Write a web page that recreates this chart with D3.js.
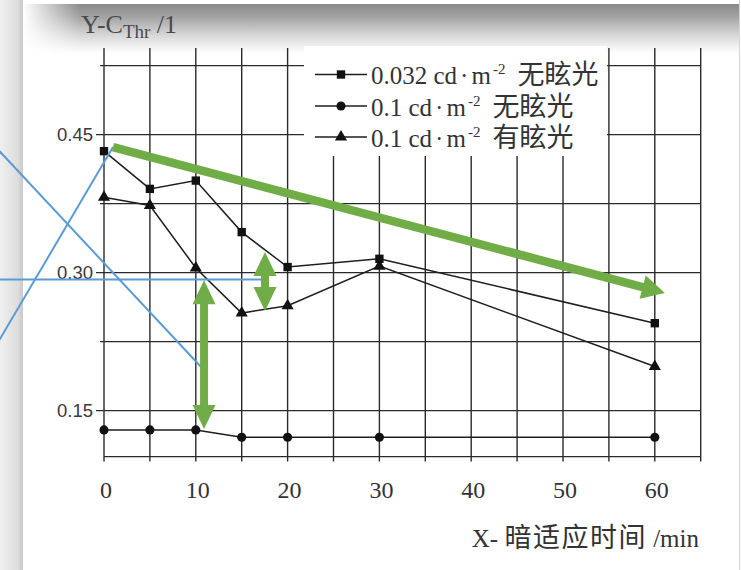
<!DOCTYPE html>
<html>
<head>
<meta charset="utf-8">
<script src="https://cdn.jsdelivr.net/npm/d3@7/dist/d3.min.js"></script>
<style>
  html, body { margin: 0; padding: 0; background: #ffffff; }
  svg { display: block; }
</style>
</head>
<body>
<script>
// Dark-adaptation threshold contrast vs. adaptation time
const minutes = [0, 5, 10, 15, 20, 30, 60];
const lum032NoGlare = [0.432, 0.391, 0.400, 0.344, 0.306, 0.315, 0.245];
const lum01NoGlare  = [0.129, 0.129, 0.129, 0.121, 0.121, 0.121, 0.121];
const lum01Glare    = [0.382, 0.373, 0.305, 0.256, 0.264, 0.307, 0.198];

const xTickLabels = [0, 10, 20, 30, 40, 50, 60];
const yTickLabels = [0.15, 0.30, 0.45];
const yGridValues = [0.15, 0.225, 0.30, 0.375, 0.45, 0.525];

const seriesLum = ["0.032", "0.1", "0.1"];
const seriesGlare = ["无眩光", "无眩光", "有眩光"];
const seriesSymbols = [d3.symbolSquare, d3.symbolCircle, d3.symbolTriangle];
const seriesSizes = [70, 66, 64];

// Overlay annotations, in (minutes, value) units
const trendArrow = [[0.98, 0.4365], [61.1, 0.2778]];
const gapArrows = [
  [[10.9, 0.2918], [10.9, 0.130]],
  [[17.54, 0.3224], [17.54, 0.2583]]
];
const guideLines = [
  [[-11.4, 0.2925], [17.54, 0.2925]],
  [[-11.4, 0.4322], [10.68, 0.1963]],
  [[-11.4, 0.2267], [0.98, 0.4365]]
];

const W = 741, H = 570;
const x = d3.scaleLinear().domain([0, 65]).range([104, 700.7]);
const y = d3.scaleLinear().domain([0.1, 0.525]).range([456.6, 65.6]);

const serif = "'Liberation Serif', 'Times New Roman', serif";
const cjk = "'Noto Sans CJK SC', sans-serif";

const svg = d3.select("body").append("svg").attr("width", W).attr("height", H);
const defs = svg.append("defs");

// page decoration: left strip and top shadow band
const lg = defs.append("linearGradient").attr("id", "strip").attr("x1", 0).attr("x2", 1).attr("y1", 0).attr("y2", 0);
lg.append("stop").attr("offset", 0).attr("stop-color", "#efefef");
lg.append("stop").attr("offset", 0.75).attr("stop-color", "#dedede");
lg.append("stop").attr("offset", 1).attr("stop-color", "#c9c9c9");

const tg = defs.append("linearGradient").attr("id", "band").attr("x1", 0).attr("x2", 0).attr("y1", 0).attr("y2", 1);
tg.append("stop").attr("offset", 0).attr("stop-color", "#8a8a8a");
tg.append("stop").attr("offset", 0.25).attr("stop-color", "#a2a2a2");
tg.append("stop").attr("offset", 0.55).attr("stop-color", "#cdcdcd");
tg.append("stop").attr("offset", 0.8).attr("stop-color", "#ececec");
tg.append("stop").attr("offset", 1).attr("stop-color", "#ffffff");

const mg = defs.append("linearGradient").attr("id", "bandFade").attr("x1", 0).attr("x2", 1).attr("y1", 0).attr("y2", 0);
mg.append("stop").attr("offset", 0).attr("stop-color", "#000");
mg.append("stop").attr("offset", 0.08).attr("stop-color", "#fff");
mg.append("stop").attr("offset", 1).attr("stop-color", "#fff");
defs.append("mask").attr("id", "bandMask")
  .append("rect").attr("x", 23).attr("y", 0).attr("width", 717).attr("height", 60).attr("fill", "url(#bandFade)");

svg.append("rect").attr("width", W).attr("height", H).attr("fill", "#ffffff");
svg.append("rect").attr("x", 23).attr("y", 4).attr("width", 716).attr("height", 50)
  .attr("fill", "url(#band)").attr("mask", "url(#bandMask)");
svg.append("rect").attr("x", 0).attr("y", 0).attr("width", 23).attr("height", H).attr("fill", "url(#strip)");
svg.append("line").attr("x1", 739.5).attr("x2", 739.5).attr("y1", 0).attr("y2", H)
  .attr("stroke", "#d4d4d4").attr("stroke-width", 1);

// grid
const grid = svg.append("g").attr("stroke", "#2a2a2a").attr("stroke-width", 1.4);
grid.selectAll("line.v").data(d3.range(0, 66, 5)).join("line")
  .attr("class", "v")
  .attr("x1", d => x(d)).attr("x2", d => x(d))
  .attr("y1", 48).attr("y2", y(0.1) + 5);
grid.selectAll("line.h").data(yGridValues).join("line")
  .attr("class", "h")
  .attr("x1", d => x(0) - (yTickLabels.some(t => Math.abs(t - d) < 1e-9) ? 8 : 4))
  .attr("x2", x(65))
  .attr("y1", d => y(d)).attr("y2", d => y(d));
grid.append("line").attr("x1", x(0)).attr("x2", x(65)).attr("y1", y(0.1)).attr("y2", y(0.1));

// legend backdrop hides the grid behind it
svg.append("rect").attr("x", 304).attr("y", 46).attr("width", 303).attr("height", 110).attr("fill", "#ffffff");

// tick labels
svg.append("g").selectAll("text").data(yTickLabels).join("text")
  .attr("x", 93).attr("y", d => y(d) + 6.5)
  .attr("text-anchor", "end")
  .attr("font-family", "'Liberation Sans', Arial, sans-serif")
  .attr("font-size", 18.5).attr("fill", "#3a3a3a")
  .text(d => d.toFixed(2));

svg.append("g").selectAll("text").data(xTickLabels).join("text")
  .attr("x", d => x(d) + 2).attr("y", 498)
  .attr("text-anchor", "middle")
  .attr("font-family", serif)
  .attr("font-size", 24).attr("fill", "#333")
  .text(d => d);

// axis titles
const yTitle = svg.append("text").attr("x", 81).attr("y", 33)
  .attr("font-family", serif).attr("font-size", 26).attr("fill", "#4a4a4a");
yTitle.append("tspan").text("Y-C");
yTitle.append("tspan").attr("font-size", 19).attr("dy", 5).text("Thr");
yTitle.append("tspan").attr("dy", -5).text(" /1");

const xTitle = svg.append("text").attr("x", 699).attr("y", 547)
  .attr("text-anchor", "end")
  .attr("font-family", serif).attr("font-size", 25).attr("fill", "#333");
xTitle.append("tspan").text("X- ");
xTitle.append("tspan").attr("font-family", cjk).attr("font-size", 27)
  .attr("letter-spacing", 1.5).text("暗适应时间");
xTitle.append("tspan").text(" /min");

// series
const series = [lum032NoGlare, lum01NoGlare, lum01Glare];
const line = d3.line().x((d, i) => x(minutes[i])).y(d => y(d));
const plot = svg.append("g");
series.forEach((vals, k) => {
  plot.append("path").datum(vals)
    .attr("d", line).attr("fill", "none")
    .attr("stroke", "#1e1e1e").attr("stroke-width", 1.5);
  plot.append("g").selectAll("path").data(vals).join("path")
    .attr("transform", (d, i) => `translate(${x(minutes[i])},${y(d)})`)
    .attr("d", d3.symbol().type(seriesSymbols[k]).size(seriesSizes[k]))
    .attr("fill", "#111");
});

// legend
const legendRows = [84, 115.5, 146.5];
const legend = svg.append("g");
seriesLum.forEach((lum, k) => {
  const by = legendRows[k];
  const g = legend.append("g");
  g.append("line").attr("x1", 315).attr("x2", 367).attr("y1", by - 9.5).attr("y2", by - 9.5)
    .attr("stroke", "#1e1e1e").attr("stroke-width", 1.5);
  g.append("path").attr("transform", `translate(341,${by - 9.5})`)
    .attr("d", d3.symbol().type(seriesSymbols[k]).size(seriesSizes[k])).attr("fill", "#111");
  const t = g.append("text").attr("x", 371).attr("y", by)
    .attr("font-family", serif).attr("font-size", 25).attr("fill", "#333");
  t.append("tspan").text(lum + " cd");
  t.append("tspan").attr("dx", 3).text("·");
  t.append("tspan").attr("dx", 3).text("m");
  t.append("tspan").attr("font-size", 15).attr("dy", -10).attr("dx", 2).text("-2");
  t.append("tspan").attr("dy", 10).attr("dx", 12)
    .attr("font-family", cjk).attr("font-size", 27)
    .text(seriesGlare[k]);
});

// annotations
const px = p => [x(p[0]), y(p[1])];
const blue = svg.append("g").attr("stroke", "#5b9bd5").attr("stroke-width", 2).attr("fill", "none");
guideLines.forEach(seg => {
  const a = px(seg[0]), b = px(seg[1]);
  blue.append("line").attr("x1", a[0]).attr("y1", a[1]).attr("x2", b[0]).attr("y2", b[1]);
});

function arrowPolygon(a, b, shaft, headLen, headHalf, double) {
  const dx = b[0] - a[0], dy = b[1] - a[1];
  const len = Math.hypot(dx, dy);
  const u = [dx / len, dy / len], n = [-u[1], u[0]];
  const at = (p, s, t) => [p[0] + u[0] * s + n[0] * t, p[1] + u[1] * s + n[1] * t];
  const w = shaft / 2;
  const b1 = at(b, -headLen, 0);
  if (!double) {
    return [at(a, 0, w), at(b1, 0, w), at(b1, 0, headHalf), b,
            at(b1, 0, -headHalf), at(b1, 0, -w), at(a, 0, -w)];
  }
  const b0 = at(a, headLen, 0);
  return [a, at(b0, 0, headHalf), at(b0, 0, w), at(b1, 0, w), at(b1, 0, headHalf), b,
          at(b1, 0, -headHalf), at(b1, 0, -w), at(b0, 0, -w), at(b0, 0, -headHalf)];
}

const green = svg.append("g").attr("fill", "#70ad47");
green.append("polygon")
  .attr("points", arrowPolygon(px(trendArrow[0]), px(trendArrow[1]), 8.5, 23, 12, false).map(p => p.join(",")).join(" "));
gapArrows.forEach(seg => {
  green.append("polygon")
    .attr("points", arrowPolygon(px(seg[0]), px(seg[1]), 8, 24, 11.5, true).map(p => p.join(",")).join(" "));
});
</script>
</body>
</html>
